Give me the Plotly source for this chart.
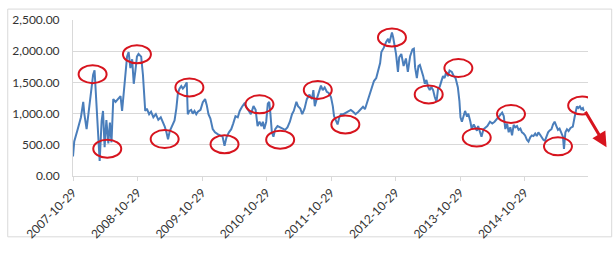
import plotly.graph_objects as go

dates = [
    "2007-10-29","2007-11-05","2007-11-25","2007-12-13","2007-12-26","2008-01-01","2008-01-14","2008-01-25",
    "2008-02-07","2008-02-20","2008-02-28","2008-03-09","2008-03-18","2008-03-28","2008-04-08","2008-04-16",
    "2008-04-25","2008-05-05","2008-05-16","2008-05-25","2008-06-03","2008-06-13","2008-06-26","2008-07-11",
    "2008-07-24","2008-08-02","2008-08-11","2008-08-21","2008-08-30","2008-09-08","2008-09-18","2008-09-28",
    "2008-10-07","2008-10-16","2008-10-25","2008-11-03","2008-11-18","2008-11-28","2008-12-05","2008-12-11",
    "2008-12-20","2009-01-02","2009-01-13","2009-01-26","2009-02-09","2009-02-23","2009-03-09","2009-03-22",
    "2009-03-31","2009-04-10","2009-04-19","2009-04-29","2009-05-11","2009-05-26","2009-06-05","2009-06-14",
    "2009-06-23","2009-07-03","2009-07-12","2009-07-21","2009-08-03","2009-08-09","2009-08-18","2009-08-28",
    "2009-09-06","2009-09-16","2009-09-26","2009-10-05","2009-10-20","2009-11-02","2009-11-15","2009-11-24",
    "2009-12-04","2009-12-15","2009-12-28","2010-01-10","2010-01-25","2010-02-09","2010-02-22","2010-03-05",
    "2010-03-16","2010-03-30","2010-04-12","2010-04-23","2010-05-06","2010-05-19","2010-05-30","2010-06-12",
    "2010-06-25","2010-07-06","2010-07-19","2010-08-01","2010-08-16","2010-08-28","2010-09-08","2010-09-19",
    "2010-09-30","2010-10-08","2010-10-16","2010-10-27","2010-11-05","2010-11-13","2010-11-20","2010-11-28",
    "2010-12-07","2010-12-17","2010-12-30","2011-01-14","2011-01-29","2011-02-11","2011-02-24","2011-03-10",
    "2011-03-22","2011-04-01","2011-04-16","2011-04-25","2011-05-08","2011-05-19","2011-06-01","2011-06-14",
    "2011-06-29","2011-07-13","2011-07-21","2011-07-29","2011-08-09","2011-08-20","2011-09-02","2011-09-12",
    "2011-09-23","2011-10-05","2011-10-16","2011-10-29","2011-11-08","2011-11-15","2011-11-26","2011-12-05",
    "2011-12-15","2011-12-24","2012-01-07","2012-01-21","2012-02-05","2012-02-18","2012-03-02","2012-03-16",
    "2012-04-01","2012-04-13","2012-04-27","2012-05-08","2012-05-21","2012-06-03","2012-06-14","2012-06-28",
    "2012-07-11","2012-07-22","2012-08-02","2012-08-09","2012-08-23","2012-09-05","2012-09-16","2012-09-23",
    "2012-10-01","2012-10-08","2012-10-15","2012-10-23","2012-10-31","2012-11-11","2012-11-18","2012-11-30",
    "2012-12-13","2012-12-26","2013-01-06","2013-01-19","2013-02-01","2013-02-09","2013-02-16","2013-02-26",
    "2013-03-07","2013-03-15","2013-03-24","2013-04-03","2013-04-12","2013-04-21","2013-05-01","2013-05-10",
    "2013-05-19","2013-05-29","2013-06-07","2013-06-17","2013-06-26","2013-07-05","2013-07-15","2013-07-24",
    "2013-08-02","2013-08-11","2013-08-21","2013-08-30","2013-09-12","2013-09-23","2013-10-03","2013-10-16",
    "2013-10-25","2013-10-31","2013-11-08","2013-11-16","2013-11-26","2013-12-07","2013-12-14","2013-12-26",
    "2014-01-03","2014-01-14","2014-01-23","2014-02-01","2014-02-08","2014-02-19","2014-02-27","2014-03-10",
    "2014-03-22","2014-04-01","2014-04-16","2014-04-29","2014-05-12","2014-05-27","2014-06-11","2014-06-24",
    "2014-07-03","2014-07-12","2014-07-22","2014-07-31","2014-08-09","2014-08-19","2014-08-28","2014-09-06",
    "2014-09-16","2014-09-25","2014-10-05","2014-10-14","2014-10-23","2014-11-01","2014-11-11","2014-11-20",
    "2014-11-30","2014-12-09","2014-12-18","2014-12-28","2015-01-06","2015-01-15","2015-01-25","2015-02-03",
    "2015-02-12","2015-02-21","2015-03-02","2015-03-11","2015-03-20","2015-03-30","2015-04-08","2015-04-17",
    "2015-04-27","2015-05-06","2015-05-15","2015-05-25","2015-06-03","2015-06-09","2015-06-17","2015-06-26",
    "2015-07-05","2015-07-16","2015-07-29","2015-08-08","2015-08-13","2015-08-21","2015-08-29","2015-09-07",
    "2015-09-15","2015-09-24","2015-09-29",
]

values = [
    314, 555, 753, 942, 1188, 1000, 750, 1043,
    1280, 1623, 1695, 1188, 608, 240, 880, 1043,
    463, 898, 522, 855, 540, 1232, 1188, 1240,
    1280, 1043, 1333, 1522, 1913, 1985, 1730, 1870,
    1478, 1680, 1913, 1956, 1913, 1623, 1188, 1043,
    1080, 990, 1030, 942, 990, 900, 940, 870,
    797, 700, 590, 720, 797, 890, 1080, 1328,
    1400, 1440, 1400, 1430, 1500, 990, 1043, 1060,
    1000, 1043, 990, 1030, 1060, 1183, 1232, 1140,
    990, 920, 753, 700, 670, 650, 630, 483,
    620, 700, 750, 840, 960, 940, 1043, 1110,
    1160, 1110, 1043, 990, 1120, 1060, 800, 870,
    800, 870, 753, 870, 1160, 1190, 990, 700,
    630, 750, 800, 780, 760, 740, 780, 870,
    990, 1043, 1188, 1120, 1080, 990, 1080, 1232,
    1304, 1232, 1376, 1120, 1232, 1340, 1449, 1376,
    1420, 1350, 1330, 1260, 1120, 960, 870, 826,
    940, 990, 990, 1010, 1043, 1060, 1030, 990,
    1030, 1070, 1110, 1070, 1188, 1330, 1424, 1522,
    1570, 1716, 1810, 1985, 2057, 2150, 2198, 2130,
    2246, 2300, 2220, 2100, 1956, 1667, 1900, 1956,
    1763, 1883, 1667, 1920, 2028, 2040, 1740, 1570,
    1763, 1780, 1700, 1600, 1478, 1540, 1425, 1376,
    1425, 1376, 1270, 1188, 1400, 1425, 1520, 1600,
    1570, 1667, 1600, 1690, 1667, 1600, 1570, 1424,
    1200, 942, 870, 950, 1043, 950, 1000, 870,
    750, 826, 780, 725, 800, 700, 630, 750,
    770, 800, 870, 840, 870, 920, 960, 1015,
    960, 753, 840, 700, 780, 652, 820, 780,
    800, 740, 760, 700, 680, 650, 580, 550,
    620, 650, 640, 680, 640, 700, 660, 610,
    580, 565, 640, 700, 730, 750, 826, 870,
    800, 740, 760, 700, 630, 435, 700, 750,
    720, 770, 790, 942, 1010, 1116, 1090, 1116,
    1070, 1090, 1043,
]

tick_dates = ["2007-10-29", "2008-10-29", "2009-10-29", "2010-10-29",
              "2011-10-29", "2012-10-29", "2013-10-29", "2014-10-29"]
y_ticks = [0, 500, 1000, 1500, 2000, 2500]

# highlighted turning points (red ellipses)
mark_dates = ["2008-02-17", "2008-05-10", "2008-10-25", "2009-03-31", "2009-08-18",
              "2010-03-05", "2010-09-19", "2011-01-14", "2011-08-15", "2012-01-18",
              "2012-10-08", "2013-05-04", "2013-10-19", "2014-01-31", "2014-08-13",
              "2015-05-06", "2015-09-20"]
mark_values = [1632, 436, 1951, 591, 1420,
               509, 1148, 581, 1380, 824,
               2219, 1308, 1729, 615, 992,
               475, 1129]

BLUE = "#4A7EBB"
RED = "#D7141E"
GRID = "#D9D9D9"
TXT = "#333333"
FONT = "Lato"

fig = go.Figure()
fig.add_trace(go.Scatter(x=dates, y=values, mode="lines",
                         line=dict(color=BLUE, width=2), showlegend=False,
                         hoverinfo="skip"))

shapes = []
for d, v in zip(mark_dates, mark_values):
    shapes.append(dict(type="circle", xref="x", yref="y",
                       xsizemode="pixel", ysizemode="pixel",
                       xanchor=d, yanchor=v, x0=-14, x1=14, y0=-9, y1=9,
                       line=dict(color=RED, width=2)))
# outer chart frame
shapes.append(dict(type="rect", xref="paper", yref="paper",
                   x0=-0.1267, x1=1.046, y0=-0.39, y1=1.07,
                   line=dict(color=GRID, width=1), layer="below"))

fig.update_layout(
    width=614, height=253,
    margin=dict(l=67, r=26, t=13, b=68),
    paper_bgcolor="white", plot_bgcolor="white",
    font=dict(family=FONT, size=12, color=TXT),
    shapes=shapes,
    annotations=[dict(xref="paper", yref="paper", x=1.036, y=0.184,
                      ax=-22, ay=-37, axref="pixel", ayref="pixel",
                      showarrow=True, arrowhead=2, arrowsize=1.0,
                      arrowwidth=3, arrowcolor=RED, text="")],
    xaxis=dict(type="date", range=["2007-10-29", "2015-10-23"],
               tickvals=tick_dates, ticktext=tick_dates, tickangle=-45,
               showgrid=False, showline=True, linecolor=GRID, linewidth=1,
               ticks="outside", ticklen=4, tickcolor=GRID,
               tickfont=dict(family=FONT, size=12, color=TXT),
               zeroline=False),
    yaxis=dict(range=[0, 2500], tickvals=y_ticks, tickformat=",.2f",
               showgrid=True, gridcolor=GRID, gridwidth=1,
               showline=True, linecolor=GRID, linewidth=1,
               ticks="", ticklabelstandoff=10,
               tickfont=dict(family=FONT, size=12, color=TXT),
               zeroline=False),
)

fig.write_html("out.html")
